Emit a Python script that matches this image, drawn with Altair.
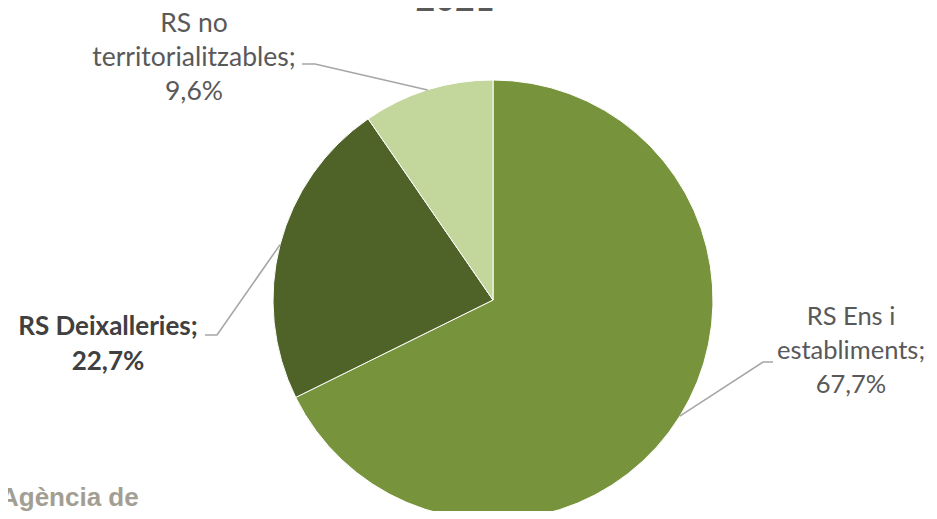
import math
import altair as alt
import pandas as pd

# ---- data ----
categories = ["RS Ens i establiments", "RS Deixalleries", "RS no territorialitzables"]
values = [67.7, 22.7, 9.6]
pct_labels = ["67,7%", "22,7%", "9,6%"]
name_lines = [["RS Ens i", "establiments;"], ["RS Deixalleries;"], ["RS no", "territorialitzables;"]]
bold_flags = [False, True, False]
title_text = "2021"
logo_text = "Agència de"

# ---- style / layout (page pixels) ----
colors = ["#77933C", "#4F6228", "#C3D69B"]
M = 8
W, H = 937 - 2 * M, 519 - 2 * M
CX, CY, R = 493, 300, 220
label_pos = [(851, 325), (108, 335), (194, 32)]
elbow_pos = [(763, 362), (217, 335), (315, 64)]
end_pos = [(773, 362), (205, 335), (302, 64)]
label_sizes = [25.5, 26, 26.5]

pie_df = pd.DataFrame({"category": categories, "value": values, "order": list(range(len(values)))})

total = sum(values)
rows = []
cum = 0.0
for i, (cat, v) in enumerate(zip(categories, values)):
    a = 2 * math.pi * (cum + v / 2) / total
    cum += v
    sx, sy = CX + R * math.sin(a), CY - R * math.cos(a)
    pts = [(sx, sy), elbow_pos[i], end_pos[i]]
    for k, (px, py) in enumerate(pts):
        rows.append({"category": cat, "pt": k, "x": px - M, "y": py - M})
line_df = pd.DataFrame(rows)

text_df = pd.DataFrame({
    "category": categories,
    "text": ["\n".join(n + [p]) for n, p in zip(name_lines, pct_labels)],
    "x": [p[0] - M for p in label_pos],
    "y": [p[1] - M for p in label_pos],
    "bold": bold_flags,
    "size": label_sizes,
})

pie = alt.Chart(pie_df).mark_arc(outerRadius=R, stroke="white", strokeWidth=1).encode(
    theta=alt.Theta("value:Q", stack=True),
    color=alt.Color("category:N", scale=alt.Scale(domain=categories, range=colors), legend=None),
    order=alt.Order("order:Q"),
    x=alt.value(CX - M),
    y=alt.value(CY - M),
)

leaders = alt.Chart(line_df).mark_line(color="#A6A6A6", strokeWidth=1.6).encode(
    x=alt.X("x:Q", scale=None, axis=None),
    y=alt.Y("y:Q", scale=None, axis=None),
    detail="category:N",
    order="pt:Q",
)

text_base = alt.Chart(text_df).encode(
    x=alt.X("x:Q", scale=None, axis=None),
    y=alt.Y("y:Q", scale=None, axis=None),
    text="text:N",
    size=alt.Size("size:Q", scale=None, legend=None),
)
labels_regular = text_base.transform_filter("!datum.bold").mark_text(
    font="Lato", color="#595959", align="center", baseline="alphabetic",
    lineBreak="\n", lineHeight=34,
)
labels_bold = text_base.transform_filter("datum.bold").mark_text(
    font="Lato", fontWeight="bold", color="#404040", align="center",
    baseline="alphabetic", lineBreak="\n", lineHeight=35,
)

title_df = pd.DataFrame({"text": [title_text], "x": [455 - M], "y": [11 - M]})
title = alt.Chart(title_df).mark_text(
    font="Lato", fontSize=34, fontWeight="bold", color="#595959", align="center", baseline="alphabetic"
).encode(x=alt.X("x:Q", scale=None, axis=None), y=alt.Y("y:Q", scale=None, axis=None), text="text:N")

logo_df = pd.DataFrame({"text": [logo_text], "x": [0 - M], "y": [506 - M]})
logo = alt.Chart(logo_df).mark_text(
    font="Liberation Sans", fontSize=26, fontWeight="bold", color="#A39E93", align="left", baseline="alphabetic"
).encode(x=alt.X("x:Q", scale=None, axis=None), y=alt.Y("y:Q", scale=None, axis=None), text="text:N")

chart = alt.layer(pie, leaders, labels_regular, labels_bold, title, logo).properties(
    width=W, height=H, padding=0, autosize="none"
).configure_view(stroke=None)

chart.save("out.html", embed_options={"renderer": "svg", "actions": False})
